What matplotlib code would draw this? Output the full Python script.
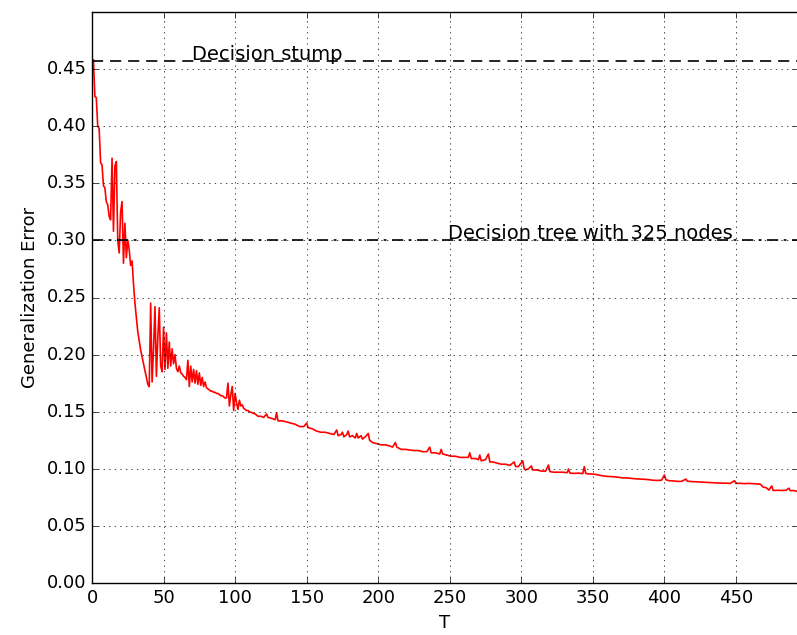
import matplotlib
matplotlib.use("Agg")
import matplotlib.pyplot as plt

plt.style.use('classic')

# T values (boosting rounds) and generalization error
T_dense = list(range(1, 111))
err_dense = [
    0.458, 0.426, 0.425, 0.400, 0.398, 0.368, 0.366, 0.348, 0.346, 0.334,
    0.331, 0.321, 0.318, 0.372, 0.308, 0.365, 0.369, 0.300, 0.289, 0.325,
    0.334, 0.280, 0.315, 0.285, 0.300, 0.292, 0.278, 0.282, 0.262, 0.245,
    0.232, 0.220, 0.212, 0.204, 0.198, 0.192, 0.186, 0.180, 0.174, 0.172,
    0.245, 0.176, 0.205, 0.242, 0.181, 0.215, 0.241, 0.190, 0.185, 0.224,
    0.187, 0.219, 0.188, 0.211, 0.190, 0.205, 0.192, 0.200, 0.188, 0.185,
    0.190, 0.184, 0.183, 0.181, 0.180, 0.178, 0.195, 0.172, 0.190, 0.176,
    0.187, 0.175, 0.186, 0.174, 0.184, 0.173, 0.180, 0.172, 0.176, 0.171,
    0.170, 0.169, 0.168, 0.168, 0.167, 0.167, 0.166, 0.166, 0.165, 0.164,
    0.164, 0.163, 0.162, 0.162, 0.175, 0.155, 0.165, 0.172, 0.151, 0.166,
    0.158, 0.152, 0.160, 0.155, 0.156, 0.153, 0.152, 0.151, 0.151, 0.150,
]

T_sparse = [
    112, 114, 116, 118, 120, 122, 123, 126, 128, 129, 130, 133, 136, 139, 142,
    145, 148, 150, 151, 154, 157, 160, 163, 166, 169, 171, 172, 174, 175, 176,
    178, 179, 180, 182, 184, 185, 186, 188, 189, 191, 193, 194, 196, 199, 202,
    205, 208, 210, 212, 213, 216, 219, 222, 225, 228, 231, 234, 236, 237, 240,
    243, 244, 245, 248, 251, 254, 257, 260, 263, 264, 265, 268, 270, 271, 272,
    275, 277, 278, 280, 283, 286, 289, 292, 295, 296, 298, 301, 302, 303, 305,
    307, 308, 311, 314, 317, 319, 320, 323, 326, 329, 332, 333, 334, 337, 340,
    343, 344, 345, 347, 350, 353, 356, 359, 362, 365, 368, 371, 374, 377, 380,
    383, 386, 389, 392, 395, 398, 400, 401, 403, 406, 409, 412, 415, 416, 419,
    422, 425, 428, 431, 434, 437, 440, 443, 446, 449, 450, 453, 456, 459, 462,
    465, 467, 469, 471, 473, 475, 476, 479, 482, 485, 487, 488, 490, 492, 493,
]
err_sparse = [
    0.149, 0.148, 0.146, 0.146, 0.145, 0.148, 0.145, 0.144, 0.143, 0.149, 0.142, 0.142, 0.141, 0.140, 0.139,
    0.137, 0.137, 0.140, 0.136, 0.135, 0.133, 0.132, 0.132, 0.131, 0.130, 0.134, 0.129, 0.130, 0.132, 0.128,
    0.130, 0.133, 0.128, 0.129, 0.127, 0.131, 0.127, 0.129, 0.126, 0.128, 0.131, 0.125, 0.123, 0.122, 0.121,
    0.121, 0.120, 0.119, 0.123, 0.119, 0.117, 0.117, 0.1165, 0.116, 0.116, 0.115, 0.115, 0.119, 0.114, 0.114,
    0.113, 0.117, 0.113, 0.112, 0.111, 0.111, 0.110, 0.110, 0.110, 0.114, 0.109, 0.109, 0.108, 0.112, 0.107,
    0.108, 0.113, 0.106, 0.106, 0.105, 0.104, 0.104, 0.103, 0.106, 0.102, 0.102, 0.107, 0.100, 0.099, 0.100,
    0.1025, 0.099, 0.099, 0.098, 0.098, 0.1033, 0.0975, 0.097, 0.097, 0.097, 0.0966, 0.0998, 0.0962, 0.096, 0.0962,
    0.0958, 0.1019, 0.096, 0.0955, 0.0954, 0.0948, 0.094, 0.0935, 0.0932, 0.093, 0.0926, 0.092, 0.092, 0.0916, 0.0912,
    0.091, 0.0908, 0.0905, 0.090, 0.0898, 0.090, 0.0946, 0.0905, 0.0896, 0.0894, 0.089, 0.089, 0.091, 0.0892, 0.0888,
    0.0886, 0.0884, 0.0882, 0.088, 0.0878, 0.0876, 0.0875, 0.0874, 0.0872, 0.0896, 0.0872, 0.0873, 0.087, 0.0872, 0.087,
    0.0868, 0.0865, 0.084, 0.0835, 0.0814, 0.085, 0.081, 0.0812, 0.081, 0.0812, 0.083, 0.0808, 0.081, 0.0805, 0.080,
]

T_values = T_dense + T_sparse
errors = err_dense + err_sparse

stump_error = 0.457
tree_error = 0.300
stump_label = "Decision stump"
tree_label = "Decision tree with 325 nodes"

x_ticks = [0, 50, 100, 150, 200, 250, 300, 350, 400, 450]
y_ticks = [0.00, 0.05, 0.10, 0.15, 0.20, 0.25, 0.30, 0.35, 0.40, 0.45]

fig = plt.figure(figsize=(7.97, 6.35), dpi=100, facecolor='white')
ax = fig.add_axes([92 / 797, 1 - 583 / 635, 705.5 / 797, (583 - 12) / 635])

ax.plot(T_values, errors, color='red', linewidth=1.2)
ax.axhline(stump_error, color='black', linestyle='--', linewidth=1.2, dashes=(8, 5))
ax.axhline(tree_error, color='black', linestyle='-.', linewidth=1.2, dashes=(8, 4, 2, 4))
ax.text(70, stump_error + 0.001, stump_label, fontsize=14)
ax.text(249, tree_error + 0.001, tree_label, fontsize=14)

ax.set_xlim(0, 493)
ax.set_ylim(0, 0.5)
ax.set_xticks(x_ticks)
ax.set_yticks(y_ticks)
ax.set_yticklabels([f"{v:.2f}" for v in y_ticks])
ax.tick_params(labelsize=13)
ax.grid(True)
ax.set_xlabel("T", fontsize=13)
ax.set_ylabel("Generalization Error", fontsize=13)

fig.savefig("out.png", dpi=100, facecolor='white')
